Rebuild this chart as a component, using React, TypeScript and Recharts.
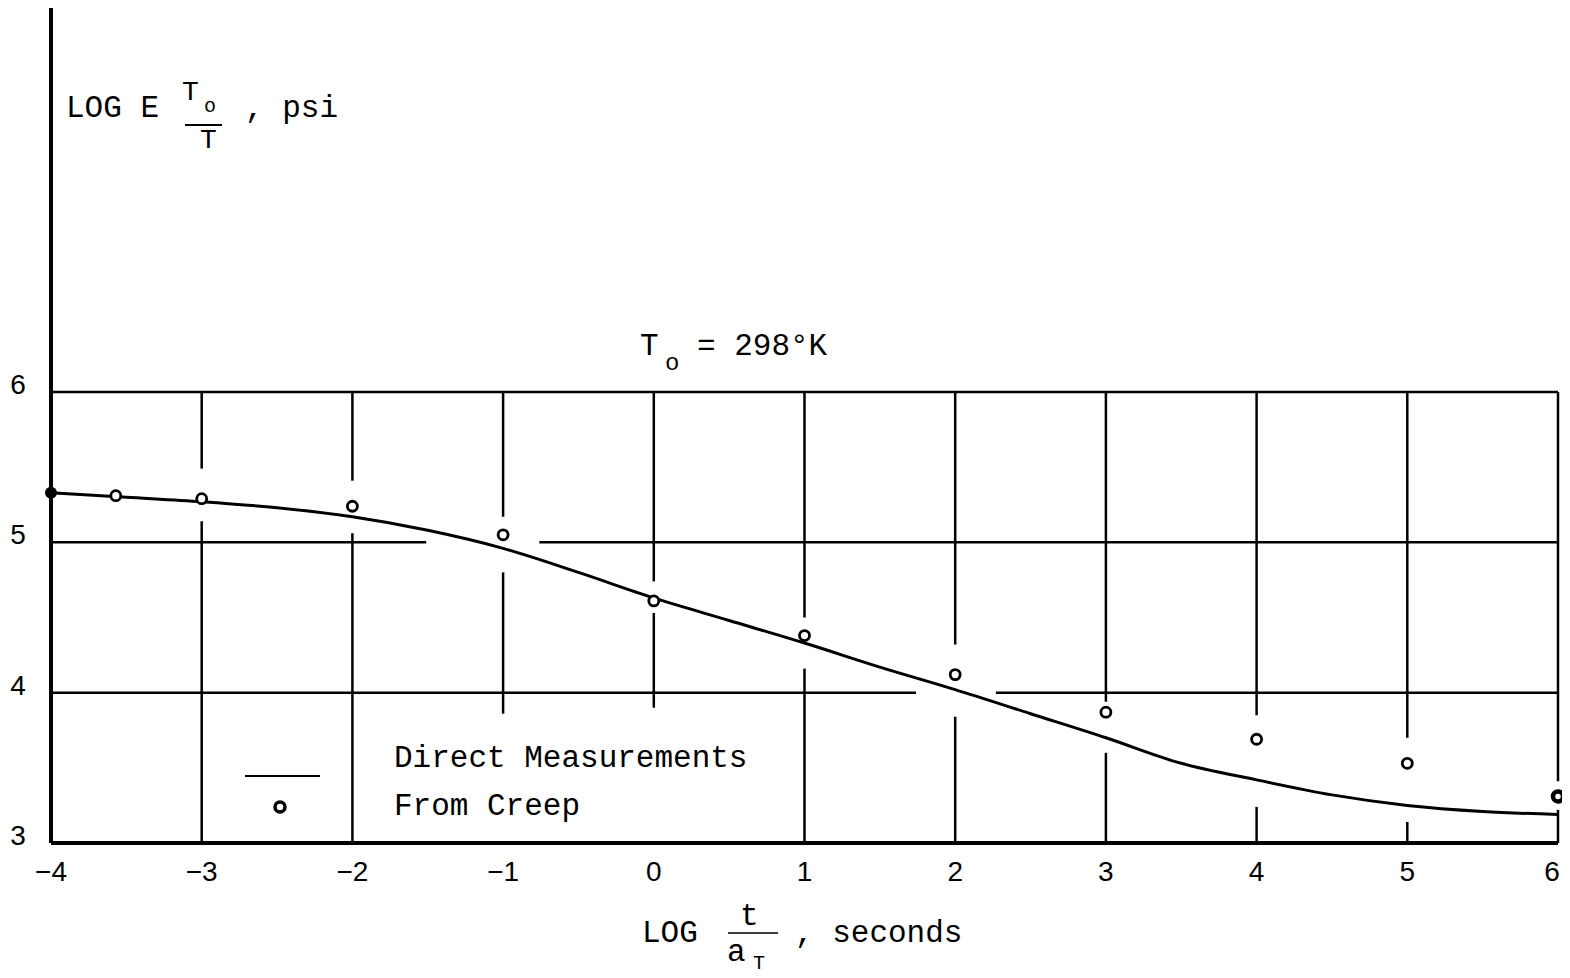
import {
  ComposedChart,
  Line,
  Scatter,
  XAxis,
  YAxis,
  ReferenceLine,
  Customized,
} from 'recharts';

// log t/aT, seconds
const xTicks = [-4, -3, -2, -1, 0, 1, 2, 3, 4, 5, 6];
// log E To/T, psi
const yTicks = [3, 4, 5, 6];

// smooth master curve
const curveX = [-4, -3.5, -3, -2.5, -2, -1.5, -1, -0.5, 0, 0.5, 1, 1.5, 2, 2.5, 3, 3.5, 4, 4.5, 5, 5.5, 6];
const curveY = [5.33, 5.3, 5.27, 5.23, 5.17, 5.08, 4.96, 4.8, 4.63, 4.48, 4.33, 4.17, 4.02, 3.86, 3.7, 3.53, 3.42, 3.32, 3.25, 3.21, 3.19];

// from creep
const creepX = [-4, -3.57, -3, -2, -1, 0, 1, 2, 3, 4, 5, 6];
const creepY = [5.33, 5.31, 5.29, 5.24, 5.05, 4.61, 4.38, 4.12, 3.87, 3.69, 3.53, 3.31];

// hand-drawn grid: each line is broken where it meets the curve / points
const vGrid: [number, [number, number][]][] = [
  [-3, [[5.49, 6], [3, 5.14]]],
  [-2, [[5.41, 6], [3, 5.06]]],
  [-1, [[5.17, 6], [3.86, 4.8]]],
  [0, [[4.74, 6], [3.9, 4.53]]],
  [1, [[4.5, 6], [3, 4.16]]],
  [2, [[4.32, 6], [3, 3.84]]],
  [3, [[3.94, 6], [3, 3.6]]],
  [4, [[3.85, 6], [3, 3.24]]],
  [5, [[3.7, 6], [3, 3.14]]],
  [6, [[3.41, 6], [3, 3.22]]],
];
const hGrid: [number, [number, number][]][] = [
  [6, [[-4, 6]]],
  [5, [[-4, -1.51], [-0.76, 6]]],
  [4, [[-4, 1.74], [2.27, 6]]],
];

const curveData = curveX.map((x, i) => ({ x, y: curveY[i] }));
const creepData = creepX.map((x, i) => ({ x, y: creepY[i] }));

const FONT = '"Liberation Mono", "DejaVu Sans Mono", monospace';
const TICK_FONT = '"Liberation Sans", "DejaVu Sans", sans-serif';

function CreepDot(props: any) {
  const { cx, cy, payload } = props;
  if (payload.x === -4) return <circle cx={cx} cy={cy} r={6} fill="#000" />;
  if (payload.x === 6) return <circle cx={cx} cy={cy} r={5} fill="#fff" stroke="#000" strokeWidth={4.5} />;
  return <circle cx={cx} cy={cy} r={5} fill="#fff" stroke="#000" strokeWidth={2.8} />;
}

function Annotations() {
  const t = { fontFamily: FONT, fill: '#000' };
  return (
    <g>
      {/* y axis title */}
      <text x={58} y={109} fontSize={31} {...t}>LOG E</text>
      <text x={174} y={92} fontSize={28} {...t}>T</text>
      <text x={196} y={104} fontSize={20} {...t}>o</text>
      <line x1={177} x2={214} y1={117} y2={117} stroke="#000" strokeWidth={2} />
      <text x={192} y={140} fontSize={28} {...t}>T</text>
      <text x={237} y={109} fontSize={31} {...t}>, psi</text>

      <text x={632} y={347} fontSize={31} {...t}>T</text>
      <text x={657} y={362} fontSize={24} {...t}>o</text>
      <text x={689} y={347} fontSize={31} {...t}>= 298°K</text>

      {/* x axis title */}
      <text x={634} y={934} fontSize={31} {...t}>LOG</text>
      <text x={732} y={917} fontSize={31} {...t}>t</text>
      <line x1={720} x2={770} y1={925} y2={925} stroke="#000" strokeWidth={1.5} />
      <text x={719} y={953} fontSize={31} {...t}>a</text>
      <text x={745} y={961} fontSize={20} {...t}>T</text>
      <text x={787} y={934} fontSize={31} {...t}>, seconds</text>

      {/* legend */}
      <line x1={237} x2={312} y1={768} y2={768} stroke="#000" strokeWidth={2} />
      <circle cx={272} cy={799} r={5} fill="#fff" stroke="#000" strokeWidth={3.5} />
      <text x={386} y={759} fontSize={31} {...t}>Direct Measurements</text>
      <text x={386} y={807} fontSize={31} {...t}>From Creep</text>
    </g>
  );
}

function XTick(props: any) {
  const { x, y, payload } = props;
  const label = String(payload.value).replace('-', '\u2212');
  const shift = payload.value === 6 ? -6 : 0;
  return (
    <text x={x + shift} y={y + 30} textAnchor="middle" fontSize={28} fontFamily={TICK_FONT} fill="#000">
      {label}
    </text>
  );
}

function YTick(props: any) {
  const { y, payload } = props;
  return (
    <text x={10} y={y + 2} textAnchor="middle" fontSize={28} fontFamily={TICK_FONT} fill="#000">
      {payload.value}
    </text>
  );
}

export default function App() {
  return (
    <div style={{ width: 1562, height: 970, background: '#fff' }}>
      <ComposedChart width={1562} height={970} margin={{ top: 0, right: 12, bottom: 0, left: 0 }}>
        <XAxis
          type="number"
          dataKey="x"
          domain={[-4, 6]}
          ticks={xTicks}
          height={135}
          axisLine={{ stroke: '#000', strokeWidth: 4 }}
          tickLine={false}
          tick={<XTick />}
          interval={0}
        />
        <YAxis
          type="number"
          dataKey="y"
          domain={[3, 8.554]}
          ticks={yTicks}
          width={43}
          axisLine={{ stroke: '#000', strokeWidth: 4 }}
          tickLine={false}
          tick={<YTick />}
          interval={0}
        />
        {hGrid.map(([y, segs]) =>
          segs.map(([a, b]) => (
            <ReferenceLine
              key={`h${y}_${a}`}
              segment={[{ x: a, y }, { x: b, y }]}
              stroke="#000"
              strokeWidth={2.5}
            />
          ))
        )}
        {vGrid.map(([x, segs]) =>
          segs.map(([a, b]) => (
            <ReferenceLine
              key={`v${x}_${a}`}
              segment={[{ x, y: a }, { x, y: b }]}
              stroke="#000"
              strokeWidth={2.5}
            />
          ))
        )}
        <Line
          data={curveData}
          dataKey="y"
          type="monotone"
          stroke="#000"
          strokeWidth={3}
          dot={false}
          activeDot={false}
          isAnimationActive={false}
        />
        <Scatter data={creepData} dataKey="y" shape={<CreepDot />} isAnimationActive={false} />
        <Customized component={Annotations} />
      </ComposedChart>
    </div>
  );
}
